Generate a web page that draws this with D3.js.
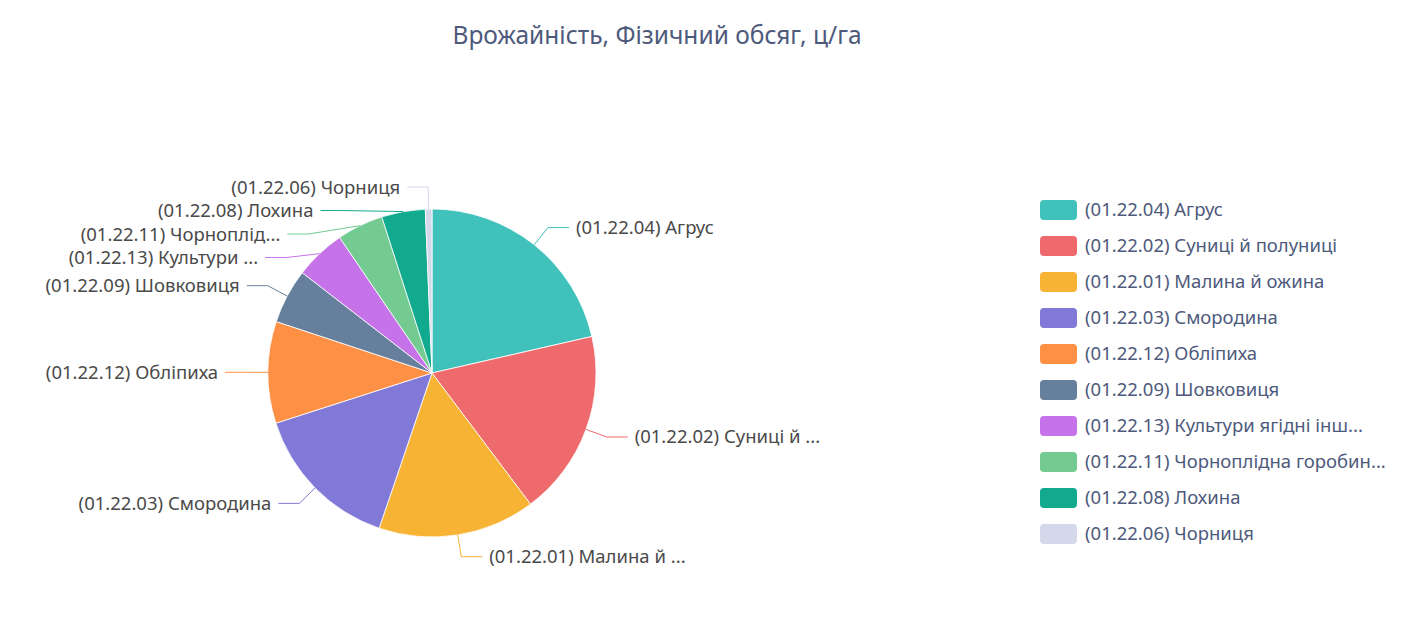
<!DOCTYPE html>
<html>
<head>
<meta charset="utf-8">
<script src="https://cdn.jsdelivr.net/npm/d3@7"></script>
<style>
  body { margin: 0; background: #fff; }
  svg text { font-family: "Noto Sans", "Open Sans", sans-serif; }
</style>
</head>
<body>
<div id="chart"></div>
<script>
// Données (ц/га)
const categories = [
  "(01.22.04) Агрус",
  "(01.22.02) Суниці й полуниці",
  "(01.22.01) Малина й ожина",
  "(01.22.03) Смородина",
  "(01.22.12) Обліпиха",
  "(01.22.09) Шовковиця",
  "(01.22.13) Культури ягідні інш...",
  "(01.22.11) Чорноплідна горобин...",
  "(01.22.08) Лохина",
  "(01.22.06) Чорниця"
];
const sliceLabels = [
  "(01.22.04) Агрус",
  "(01.22.02) Суниці й ...",
  "(01.22.01) Малина й ...",
  "(01.22.03) Смородина",
  "(01.22.12) Обліпиха",
  "(01.22.09) Шовковиця",
  "(01.22.13) Культури ...",
  "(01.22.11) Чорноплід...",
  "(01.22.08) Лохина",
  "(01.22.06) Чорниця"
];
const values = [85.7, 73.3, 61.9, 59.3, 40.1, 21.6, 20.0, 18.3, 17.2, 2.6];
const colors = ["#40c1bc", "#ef6a6d", "#f7b334", "#8179d7", "#fe9046",
                "#667f9c", "#c673ea", "#73cb91", "#11aa8f", "#d3d8ea"];

const width = 1407;
const height = 642;
const cx = 432, cy = 373, radius = 164;
const len1 = 22, len2 = 21, gap = 7;

const svg = d3.select("#chart")
    .append("svg")
    .attr("width", width)
    .attr("height", height);

// Titre
svg.append("text")
    .attr("x", 657)
    .attr("y", 44)
    .attr("text-anchor", "middle")
    .attr("font-size", 24.5)
    .attr("fill", "#4e5a7c")
    .text("Врожайність, Фізичний обсяг, ц/га");

const pie = d3.pie().sort(null).value(d => d);
const arcs = pie(values);
const arc = d3.arc().innerRadius(0).outerRadius(radius);

const g = svg.append("g").attr("transform", `translate(${cx},${cy})`);

g.selectAll("path.slice")
    .data(arcs)
    .enter()
    .append("path")
    .attr("class", "slice")
    .attr("d", arc)
    .attr("fill", (d, i) => colors[i])
    .attr("stroke", "#fff")
    .attr("stroke-width", 0.8);

// Position des étiquettes (avec décalage pour éviter les chevauchements)
const outer = radius + len1;
const labels = arcs.map((a, i) => {
    const mid = (a.startAngle + a.endAngle) / 2;
    const ex = Math.sin(mid) * outer;
    const ey = -Math.cos(mid) * outer;
    return {
        i: i,
        side: ex >= 0 ? 1 : -1,
        x0: Math.sin(mid) * radius,
        y0: -Math.cos(mid) * radius,
        ex: ex,
        ey: ey,
        ny: ey
    };
});
[1, -1].forEach(function(side) {
    const items = labels.filter(l => l.side === side).sort((a, b) => a.ey - b.ey);
    for (let k = 1; k < items.length; k++) {
        if (items[k].ey - items[k - 1].ey < 23.5) {
            items[k].ey = items[k - 1].ey + 23.5;
        }
    }
    items.forEach(function(l) {
        if (l.ey !== l.ny && Math.abs(l.ey) < outer) {
            l.ex = side * Math.sqrt(outer * outer - l.ey * l.ey);
        }
    });
});

g.selectAll("polyline.lbl")
    .data(labels)
    .enter()
    .append("polyline")
    .attr("class", "lbl")
    .attr("points", d => [[d.x0, d.y0], [d.ex, d.ey], [d.ex + d.side * len2, d.ey]].join(" "))
    .attr("fill", "none")
    .attr("stroke", d => colors[d.i])
    .attr("stroke-width", 1);

g.selectAll("text.lbl")
    .data(labels)
    .enter()
    .append("text")
    .attr("class", "lbl")
    .attr("x", d => d.ex + d.side * (len2 + gap))
    .attr("y", d => d.ey)
    .attr("dy", "0.35em")
    .attr("text-anchor", d => d.side > 0 ? "start" : "end")
    .attr("font-size", 18.5)
    .attr("fill", "#4a4a4a")
    .text(d => sliceLabels[d.i]);

// Légende
const legend = svg.append("g").attr("transform", "translate(1040,210)");
const item = legend.selectAll("g")
    .data(categories)
    .enter()
    .append("g")
    .attr("transform", (d, i) => `translate(0,${i * 36})`);

item.append("rect")
    .attr("x", 0)
    .attr("y", -10)
    .attr("width", 37)
    .attr("height", 20)
    .attr("rx", 4)
    .attr("fill", (d, i) => colors[i]);

item.append("text")
    .attr("x", 45)
    .attr("y", 0)
    .attr("dy", "0.35em")
    .attr("font-size", 18.5)
    .attr("fill", "#4e5a7c")
    .text(d => d);
</script>
</body>
</html>
